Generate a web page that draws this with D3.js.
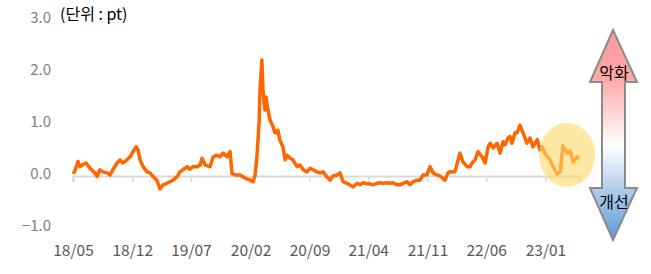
<!DOCTYPE html>
<html>
<head>
<meta charset="utf-8">
<script src="https://cdn.jsdelivr.net/npm/d3@7"></script>
<style>
  html, body { margin: 0; padding: 0; background: #fff; }
  svg { display: block; font-family: "Noto Sans CJK KR", "Noto Sans", sans-serif; }
</style>
</head>
<body>
<svg id="chart" width="651" height="274"></svg>
<script>
"use strict";

// dates of the readings (roughly every 1-2 weeks)
var dates = [
  "2018-05-01","2018-05-08","2018-05-19","2018-05-26","2018-06-06","2018-06-17","2018-07-01","2018-07-19",
  "2018-07-27","2018-08-06","2018-08-17","2018-09-01","2018-09-12","2018-09-22","2018-10-07","2018-10-18",
  "2018-10-29","2018-11-12","2018-11-23","2018-12-04","2018-12-15","2018-12-22","2018-12-29","2019-01-09",
  "2019-01-23","2019-02-03","2019-02-14","2019-02-28","2019-03-11","2019-03-22","2019-04-05","2019-04-16",
  "2019-04-27","2019-05-12","2019-05-22","2019-06-02","2019-06-17","2019-06-27","2019-07-08","2019-07-23",
  "2019-08-03","2019-08-10","2019-08-21","2019-09-08","2019-09-19","2019-10-03","2019-10-14","2019-10-25",
  "2019-11-08","2019-11-19","2019-11-26","2019-12-07","2019-12-25","2020-01-12","2020-01-30","2020-02-10",
  "2020-02-17","2020-02-24","2020-03-03","2020-03-06","2020-03-13","2020-03-17","2020-03-24","2020-03-28",
  "2020-04-04","2020-04-11","2020-04-22","2020-04-29","2020-05-10","2020-05-17","2020-05-28","2020-06-05",
  "2020-06-12","2020-06-23","2020-07-03","2020-07-18","2020-07-29","2020-08-09","2020-08-23","2020-09-03",
  "2020-09-14","2020-09-28","2020-10-09","2020-10-20","2020-10-31","2020-11-14","2020-11-25","2020-12-09",
  "2020-12-20","2020-12-31","2021-01-14","2021-01-25","2021-02-05","2021-02-20","2021-03-02","2021-03-13",
  "2021-03-28","2021-04-07","2021-04-18","2021-05-03","2021-05-14","2021-05-24","2021-06-08","2021-06-19",
  "2021-06-30","2021-07-14","2021-07-25","2021-08-05","2021-08-19","2021-08-30","2021-09-10","2021-09-24",
  "2021-10-05","2021-10-16","2021-10-30","2021-11-10","2021-11-21","2021-12-05","2021-12-16","2022-01-03",
  "2022-01-14","2022-01-21","2022-02-08","2022-02-26","2022-03-09","2022-03-24","2022-04-04","2022-04-11",
  "2022-04-22","2022-05-02","2022-05-17","2022-05-28","2022-06-08","2022-06-15","2022-06-26","2022-07-10",
  "2022-07-21","2022-08-01","2022-08-08","2022-08-19","2022-08-26","2022-09-02","2022-09-13","2022-09-20",
  "2022-10-01","2022-10-12","2022-10-26","2022-11-06","2022-11-17","2022-12-02","2022-12-12","2022-12-20",
  "2022-12-30","2023-01-17","2023-01-28","2023-02-12","2023-02-23","2023-03-05","2023-03-20","2023-03-31",
  "2023-04-11","2023-04-25","2023-05-02"
];

// index value (pt)
var values = [
  0.04, 0.10, 0.28, 0.18, 0.22, 0.25, 0.15, 0.06,
  -0.01, 0.12, 0.08, 0.06, 0.02, 0.12, 0.25, 0.31,
  0.25, 0.31, 0.37, 0.47, 0.56, 0.50, 0.31, 0.18,
  0.08, 0.06, -0.01, -0.08, -0.25, -0.17, -0.14, -0.11,
  -0.08, -0.01, 0.08, 0.12, 0.18, 0.13, 0.18, 0.18,
  0.21, 0.34, 0.21, 0.18, 0.37, 0.40, 0.37, 0.44,
  0.37, 0.47, 0.05, 0.02, 0.02, -0.04, -0.08, -0.11,
  0.00, 0.37, 1.02, 1.65, 2.23, 1.65, 1.27, 1.52,
  1.27, 1.08, 0.95, 0.83, 0.88, 0.69, 0.56, 0.31,
  0.40, 0.34, 0.31, 0.18, 0.21, 0.12, 0.08, 0.15,
  0.12, 0.08, 0.06, 0.08, 0.00, -0.08, 0.00, 0.02,
  0.06, -0.11, -0.14, -0.17, -0.21, -0.14, -0.17, -0.13,
  -0.15, -0.15, -0.17, -0.14, -0.13, -0.14, -0.13, -0.14,
  -0.13, -0.17, -0.17, -0.14, -0.11, -0.17, -0.11, -0.08,
  -0.08, 0.02, 0.02, 0.18, 0.06, 0.02, 0.00, -0.08,
  0.06, 0.08, 0.08, 0.44, 0.27, 0.18, 0.18, 0.25,
  0.31, 0.47, 0.37, 0.25, 0.56, 0.63, 0.54, 0.63,
  0.44, 0.66, 0.60, 0.73, 0.76, 0.63, 0.83, 0.83,
  0.98, 0.83, 0.63, 0.73, 0.56, 0.70, 0.50, 0.56,
  0.44, 0.31, 0.18, 0.04, 0.08, 0.58, 0.44, 0.48,
  0.27, 0.37, 0.34
];

var yTicks = [-1, 0, 1, 2, 3];
var xTickDates = ["2018-05-01","2018-12-01","2019-07-01","2020-02-01","2020-09-01",
                  "2021-04-01","2021-11-01","2022-06-01","2023-01-01"];
var xTickLabels = ["18/05","18/12","19/07","20/02","20/09","21/04","21/11","22/06","23/01"];

var parse = d3.timeParse("%Y-%m-%d");
var data = dates.map(function(d, i) { return { date: parse(d), value: values[i] }; });

var svg = d3.select("#chart");

var x = d3.scaleTime()
  .domain([parse(dates[0]), parse(dates[dates.length - 1])])
  .range([73, 579]);
var y = d3.scaleLinear().domain([-1, 3]).range([228, 20]);

// y tick labels (no axis line)
svg.append("g").selectAll("text")
  .data(yTicks)
  .enter().append("text")
    .attr("x", 51)
    .attr("y", function(d) { return y(d) - 2; })
    .attr("dy", "0.35em")
    .attr("text-anchor", "end")
    .attr("fill", "#808080")
    .style("font-size", "15px")
    .text(function(d) { return (d < 0 ? "\u2212" : "") + Math.abs(d).toFixed(1); });

// zero baseline with ticks
var xAxis = d3.axisBottom(x)
  .tickValues(xTickDates.map(parse))
  .tickSize(6)
  .tickFormat(function(d, i) { return xTickLabels[i]; });

var gx = svg.append("g")
  .attr("transform", "translate(0," + y(0) + ")")
  .call(xAxis);
gx.select(".domain").attr("stroke", "#d9d9d9").attr("stroke-width", 2);
gx.selectAll(".tick line").attr("stroke", "#d9d9d9").attr("stroke-width", 1.5);
gx.selectAll(".tick text")
  .attr("y", 69)
  .attr("fill", "#595959")
  .style("font-size", "15.5px")
  .style("font-family", "'Noto Sans CJK KR', 'Noto Sans', sans-serif");

// series line
var line = d3.line()
  .x(function(d) { return x(d.date); })
  .y(function(d) { return y(d.value); });

svg.append("path")
  .datum(data)
  .attr("d", line)
  .attr("fill", "none")
  .attr("stroke", "#ff6600")
  .attr("stroke-width", 3.5)
  .attr("stroke-linejoin", "round");

// highlight on the latest period
svg.append("ellipse")
  .attr("cx", x(parse("2023-03-20")))
  .attr("cy", 155)
  .attr("rx", 28)
  .attr("ry", 32)
  .attr("fill", "#ffd966")
  .attr("fill-opacity", 0.6);

// unit label
svg.append("text")
  .attr("x", 60)
  .attr("y", 20)
  .attr("fill", "#000")
  .style("font-size", "16px")
  .text("(단위 : pt)");

// double arrow with red -> white -> blue gradient
var defs = svg.append("defs");
var grad = defs.append("linearGradient")
  .attr("id", "arrowGrad")
  .attr("x1", 0).attr("y1", 0).attr("x2", 0).attr("y2", 1);
grad.append("stop").attr("offset", "0%").attr("stop-color", "#ff9a9a");
grad.append("stop").attr("offset", "22%").attr("stop-color", "#ffa6a6");
grad.append("stop").attr("offset", "55%").attr("stop-color", "#ffffff");
grad.append("stop").attr("offset", "78%").attr("stop-color", "#a9c8e8");
grad.append("stop").attr("offset", "100%").attr("stop-color", "#5b9bd5");

var arrowPts = [[613,30],[637,82],[625,82],[625,188],[637,188],[613,240],
                [590,188],[602,188],[602,82],[590,82]];
svg.append("polygon")
  .attr("points", arrowPts.map(function(p) { return p.join(","); }).join(" "))
  .attr("fill", "url(#arrowGrad)")
  .attr("stroke", "#8c8c8c")
  .attr("stroke-width", 2)
  .attr("stroke-linejoin", "miter");

svg.append("text")
  .attr("x", 614).attr("y", 73)
  .attr("dy", "0.35em")
  .attr("text-anchor", "middle")
  .style("font-size", "16px")
  .text("악화");
svg.append("text")
  .attr("x", 614).attr("y", 202)
  .attr("dy", "0.35em")
  .attr("text-anchor", "middle")
  .style("font-size", "16px")
  .text("개선");
</script>
</body>
</html>
